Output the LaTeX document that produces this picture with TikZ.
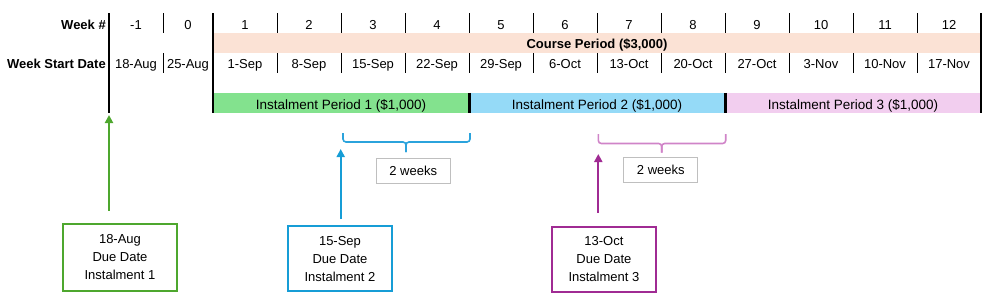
\documentclass[tikz,border=0pt]{standalone}
\usepackage{fontspec}
\setmainfont{Liberation Sans}
\usetikzlibrary{arrows.meta}
\definecolor{courseband}{HTML}{FBE2D5}
\definecolor{bargreen}{HTML}{83E28E}
\definecolor{barblue}{HTML}{95DAF7}
\definecolor{barpink}{HTML}{F2CEEF}
\definecolor{dgreen}{HTML}{4EA72E}
\definecolor{dblue}{HTML}{169DD6}
\definecolor{lblue}{HTML}{2BA3DC}
\definecolor{dpurple}{HTML}{A02B93}
\definecolor{lpurple}{HTML}{D084C8}
\definecolor{boxgray}{HTML}{BFBFBF}
\begin{document}
\begin{tikzpicture}[x=1pt,y=-1pt,
  thinln/.style={line width=1pt},
  thickln/.style={line width=2.6pt},
  txt/.style={font=\fontsize{13}{15}\selectfont, inner sep=0pt, anchor=base},
  hdr/.style={font=\fontsize{13}{15}\selectfont\bfseries, inner sep=0pt, anchor=base east},
  bandbar/.style={draw=none, inner sep=0pt, minimum height=20pt, text height=10.5pt, text depth=0.5pt, font=\fontsize{13}{15}\selectfont\bfseries},
  instbar/.style={draw=none, inner sep=0pt, minimum height=20pt, minimum width=256pt, text height=12pt, text depth=0pt, font=\fontsize{13.5}{15}\selectfont},
  duebox/.style={draw, line width=2pt, fill=white, align=center, inner sep=0pt, font=\fontsize{13}{18}\selectfont},
  wkbox/.style={draw=boxgray, line width=1pt, inner sep=0pt, minimum width=74pt, minimum height=25.5pt, font=\fontsize{13}{15}\selectfont},
  arr/.style={line width=2pt, -{Triangle[width=8pt,length=8pt]}},
  bracestyle/.style={line width=1.6pt, rounded corners=3pt}
]
\useasboundingbox (0,0) rectangle (993,300);

% bars
\node[bandbar, fill=courseband, minimum width=768pt] (course) at (597,43) {Course Period (\$3,000)};
\node[instbar, fill=bargreen] (ip1) at (341,103) {Instalment Period 1 (\$1,000)};
\node[instbar, fill=barblue] (ip2) at (597,103) {Instalment Period 2 (\$1,000)};
\node[instbar, fill=barpink] (ip3) at (853,103) {Instalment Period 3 (\$1,000)};

% row headers
\node[hdr] (hweek) at (106,29.3) {Week \#};
\node[hdr] (hdate) at (106,68) {Week Start Date};

% week numbers and dates
\node[txt] (wm1) at (136,29.3) {-1};
\node[txt] (w0) at (188,29.3) {0};
\node[txt] (dm1) at (136,68) {18-Aug};
\node[txt] (d0) at (188,68) {25-Aug};
\foreach \k/\d in {1/1-Sep,2/8-Sep,3/15-Sep,4/22-Sep,5/29-Sep,6/6-Oct,7/13-Oct,8/20-Oct,9/27-Oct,10/3-Nov,11/10-Nov,12/17-Nov}{
  \node[txt] (w\k) at ({213+64*(\k-0.5)},29.3) {\k};
  \node[txt] (d\k) at ({213+64*(\k-0.5)},68) {\d};
}

% thin separators
\foreach \x in {163,277,341,405,469,533,597,661,725,789,853,917}{
  \draw[thinln] (\x,13) -- (\x,33);
  \draw[thinln] (\x,53) -- (\x,73);
}
% thick lines
\foreach \x in {109,213,981}{
  \draw[thickln] (\x,13) -- (\x,113);
}
\draw[thickln] (ip1.north east) -- (ip1.south east);
\draw[thickln] (ip2.north east) -- (ip2.south east);

% braces
\draw[bracestyle, lblue] (343,133) |- (406,142) -- (406,152);
\draw[bracestyle, lblue] (470,133) |- (406,142) -- (406,152);
\draw[bracestyle, lpurple] (598.3,134) |- (661.7,143.5) -- (661.7,152.7);
\draw[bracestyle, lpurple] (725.7,134) |- (661.7,143.5) -- (661.7,152.7);

\node[wkbox] (wk1) at (413.2,170.8) {2 weeks};
\node[wkbox] (wk2) at (660.8,170) {2 weeks};

% due boxes
\node[duebox, draw=dgreen, minimum width=114.6pt, minimum height=67.3pt] (g) at (120,257.4) {18-Aug\\Due Date\\Instalment 1};
\node[duebox, draw=dblue, minimum width=104.6pt, minimum height=65.3pt] (b) at (340,258.7) {15-Sep\\Due Date\\Instalment 2};
\node[duebox, draw=dpurple, minimum width=104.3pt, minimum height=64.7pt] (p) at (603.9,259.3) {13-Oct\\Due Date\\Instalment 3};

% arrow targets
\coordinate (gtip) at (109,115);
\coordinate (btip) at (340.7,149);
\coordinate (ptip) at (598.3,154);

\draw[arr, dgreen, shorten <=12pt] (gtip |- g.north) -- (gtip);
\draw[arr, dblue, shorten <=6pt] (btip |- b.north) -- (btip);
\draw[arr, dpurple, shorten <=13pt] (ptip |- p.north) -- (ptip);
\end{tikzpicture}
\end{document}
